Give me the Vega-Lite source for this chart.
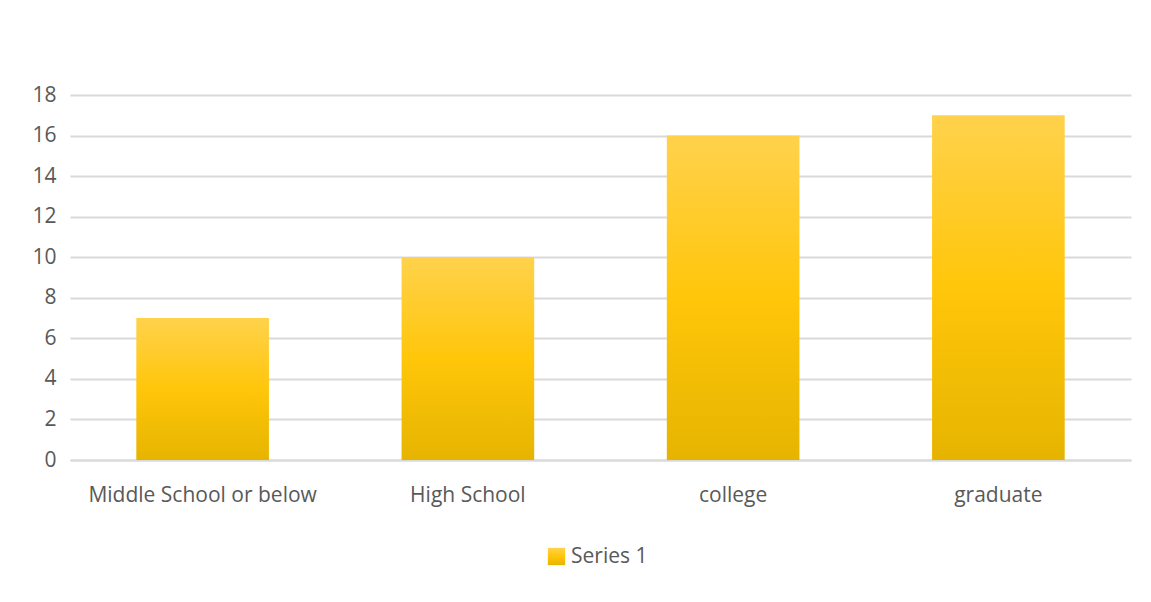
{
  "$schema": "https://vega.github.io/schema/vega-lite/v6.json",
  "width": 1061,
  "height": 365,
  "autosize": {"type": "none"},
  "padding": {"left": 70, "top": 95, "right": 20, "bottom": 142},
  "background": "white",
  "config": {
    "view": {"stroke": null},
    "font": "Open Sans",
    "axis": {"labelFont": "Open Sans", "labelFontSize": 21, "labelColor": "#595959", "labelLimit": 400}
  },
  "data": {
    "values": [
      {"level": "Middle School or below", "value": 7, "series": "Series 1"},
      {"level": "High School", "value": 10, "series": "Series 1"},
      {"level": "college", "value": 16, "series": "Series 1"},
      {"level": "graduate", "value": 17, "series": "Series 1"}
    ]
  },
  "mark": {
    "type": "bar",
    "fill": {
      "gradient": "linear", "x1": 0, "y1": 0, "x2": 0, "y2": 1,
      "stops": [
        {"offset": 0, "color": "#FFD24C"},
        {"offset": 0.5, "color": "#FFC60A"},
        {"offset": 1, "color": "#E6B400"}
      ]
    }
  },
  "encoding": {
    "x": {
      "field": "level", "type": "nominal", "sort": null,
      "scale": {"paddingInner": 0.5, "paddingOuter": 0.25},
      "axis": {"title": null, "labelAngle": 0, "ticks": false, "domain": true, "domainColor": "#d9d9d9", "domainWidth": 2, "labelPadding": 24}
    },
    "y": {
      "field": "value", "type": "quantitative",
      "scale": {"domain": [0, 18], "nice": false},
      "axis": {"title": null, "values": [0, 2, 4, 6, 8, 10, 12, 14, 16, 18], "domain": false, "ticks": false, "gridColor": "#d9d9d9", "gridWidth": 2, "labelPadding": 14}
    },
    "opacity": {
      "field": "series", "type": "nominal",
      "scale": {"range": [1]},
      "legend": {
        "title": null, "orient": "none", "legendX": 476, "legendY": 451,
        "symbolType": "square", "symbolSize": 300, "symbolStrokeWidth": 0,
        "labelFont": "Open Sans", "labelFontSize": 21, "labelColor": "#595959", "labelOffset": 4,
        "symbolFillColor": "#FFC000",
        "encode": {"symbols": {"update": {"fill": {"value": {
          "gradient": "linear", "x1": 0, "y1": 0, "x2": 0, "y2": 1,
          "stops": [
            {"offset": 0, "color": "#FFD24C"},
            {"offset": 0.5, "color": "#FFC60A"},
            {"offset": 1, "color": "#E6B400"}
          ]
        }}, "opacity": {"value": 1}}}}
      }
    }
  }
}
